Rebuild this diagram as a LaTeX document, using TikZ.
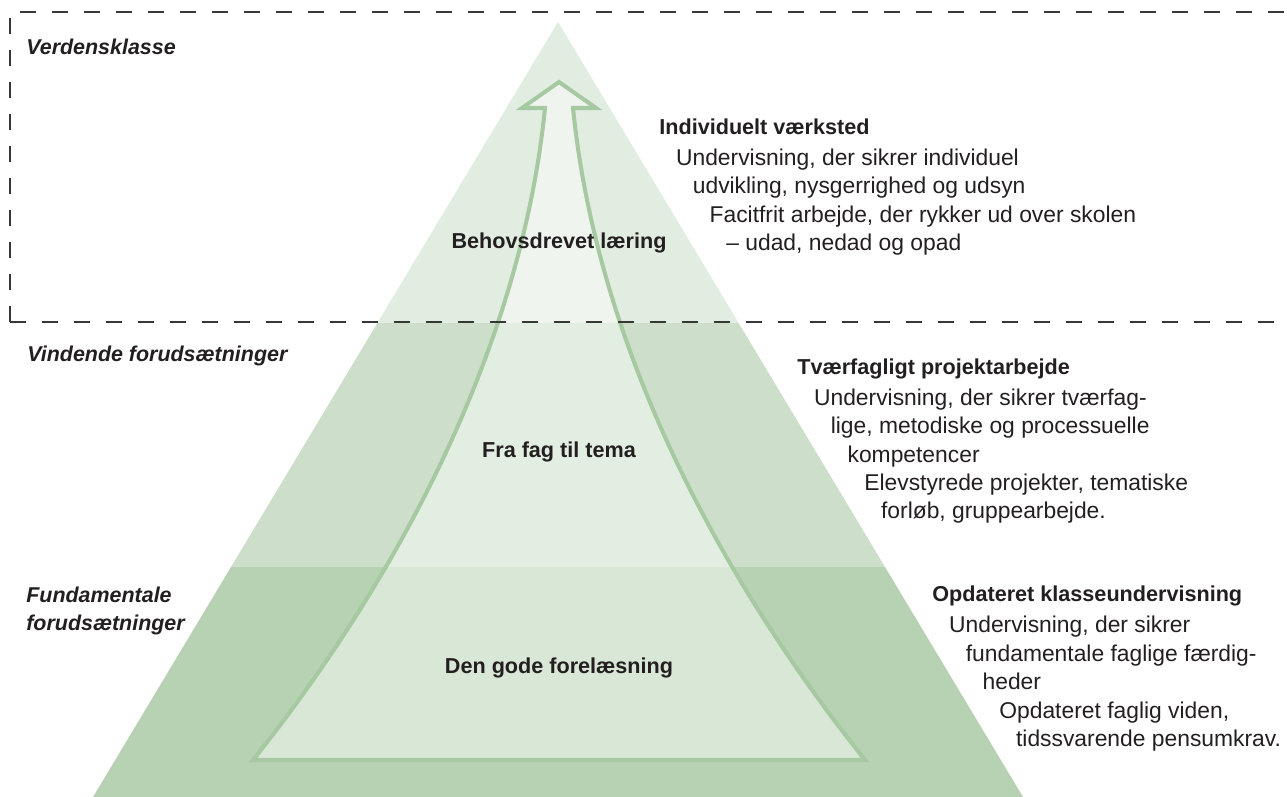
\documentclass[tikz,border=0pt]{standalone}
\usepackage{fontspec}
\setmainfont{Liberation Sans}
\definecolor{inktext}{RGB}{35,31,32}
\definecolor{dashgrey}{RGB}{55,55,55}
\definecolor{topshade}{RGB}{226,237,225}
\definecolor{topinner}{RGB}{239,245,238}
\definecolor{midshade}{RGB}{205,223,202}
\definecolor{midinner}{RGB}{227,238,226}
\definecolor{lowshade}{RGB}{183,209,179}
\definecolor{lowinner}{RGB}{217,231,214}
\definecolor{arrowline}{RGB}{166,201,162}
\newlength{\stairstep}
\setlength{\stairstep}{0.335cm}
\newcommand{\trin}[1]{\hspace*{#1\stairstep}}
\newcommand{\overskrift}[1]{{\fontsize{12.3}{16.2}\selectfont\bfseries #1}}
\tikzset{
  levellabel/.style={font=\fontsize{12.2}{16}\selectfont\bfseries\itshape,
    text=inktext,inner sep=0pt,align=left},
  stagelabel/.style={font=\fontsize{12.3}{16}\selectfont\bfseries,
    text=inktext,inner sep=0pt},
  notebox/.style={font=\fontsize{13}{16.2}\selectfont,text=inktext,
    inner sep=0pt,align=left,anchor=north west},
  zoneline/.style={draw=dashgrey,line width=0.7pt,
    dash pattern=on 0.32cm off 0.32cm},
  uparrow/.style={draw=arrowline,line width=2.3pt,line join=miter}
}

\begin{document}
\begin{tikzpicture}[x=0.02cm,y=-0.02cm]
  \useasboundingbox (0,0) rectangle (1287,797);
  \coordinate (apex) at (558,22);
  \coordinate (baseL) at (93,797);
  \coordinate (baseR) at (1023,797);
  \coordinate (pL) at (253,760);
  \coordinate (pR) at (865,760);
  \coordinate (sL) at (545,108);
  \coordinate (sR) at (573,108);
  \coordinate (wL) at (522,108);
  \coordinate (wR) at (596,108);
  \coordinate (tip) at (559,82);
  \begin{scope}
    \clip (apex) -- (baseR) -- (baseL) -- cycle;
    \fill[topshade] (0,0) rectangle (1287,323);
    \fill[midshade] (0,323) rectangle (1287,567);
    \fill[lowshade] (0,567) rectangle (1287,797);
    \clip (pL) .. controls (389,590) and (520,357) .. (sL) -- (wL) -- (tip)
      -- (wR) -- (sR) .. controls (598,357) and (729,590) .. (pR) -- cycle;
    \fill[topinner] (0,0) rectangle (1287,323);
    \fill[midinner] (0,323) rectangle (1287,567);
    \fill[lowinner] (0,567) rectangle (1287,797);
  \end{scope}
  \draw[uparrow] (pL) .. controls (389,590) and (520,357) .. (sL) -- (wL)
    -- (tip) -- (wR) -- (sR) .. controls (598,357) and (729,590) .. (pR) -- cycle;

  \draw[zoneline] (10,322) -- (10,12) -- (1300,12);
  \draw[zoneline] (10,322) -- (1300,322);

  \node[levellabel,anchor=base west] (verden) at (26,55) {Verdensklasse};
  \node[levellabel,anchor=base west] (vindende) at (27,361)
    {Vindende forudsætninger};
  \node[levellabel,anchor=west] (fundament) at (26,611)
    {Fundamentale\\forudsætninger};

  \node[stagelabel] (behov) at (559,243) {Behovsdrevet læring};
  \node[stagelabel] (frafag) at (559,452) {Fra fag til tema};
  \node[stagelabel] (forelaes) at (559,668) {Den gode forelæsning};

  \node[notebox] (vaerksted) at (659,118)
    {\overskrift{Individuelt værksted}\\[1.5pt]
     \trin{1}Undervisning, der sikrer individuel\\
     \trin{2}udvikling, nysgerrighed og udsyn\\
     \trin{3}Facitfrit arbejde, der rykker ud over skolen\\
     \trin{4}-- udad, nedad og opad};
  \node[notebox] (tvaerfag) at (797,358)
    {\overskrift{Tværfagligt projektarbejde}\\[1.5pt]
     \trin{1}Undervisning, der sikrer tværfag-\\
     \trin{2}lige, metodiske og processuelle\\
     \trin{3}kompetencer\\
     \trin{4}Elevstyrede projekter, tematiske\\
     \trin{5}forløb, gruppearbejde.};
  \node[notebox] (klasse) at (932,585)
    {\overskrift{Opdateret klasseundervisning}\\[2pt]
     \trin{1}Undervisning, der sikrer\\
     \trin{2}fundamentale faglige færdig-\\
     \trin{3}heder\\
     \trin{4}Opdateret faglig viden,\\
     \trin{5}tidssvarende pensumkrav.};
\end{tikzpicture}
\end{document}
